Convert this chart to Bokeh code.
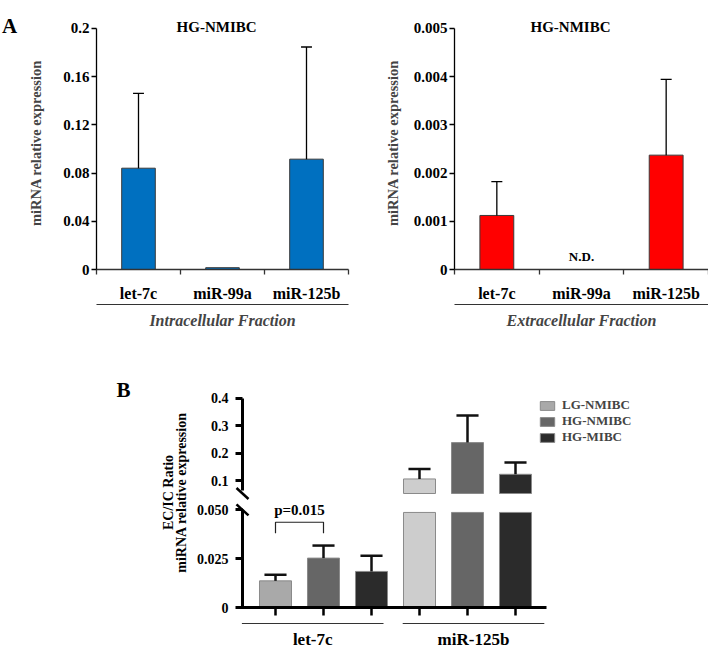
import numpy as np
from bokeh.plotting import figure
from bokeh.models import (Range1d, FixedTicker, LinearAxis, Legend, LegendItem, ColumnDataSource)
from bokeh.layouts import row, column
from bokeh.embed import file_html
from bokeh.resources import INLINE
from bokeh.core.properties import value

SERIF = "Liberation Serif"

# ---------------- data ----------------
mirnas = ["let-7c", "miR-99a", "miR-125b"]
panel_title = "HG-NMIBC"
ic_mean = [0.084, 0.0015, 0.0915]
ic_sd = [0.062, 0.0, 0.093]
ec_mean = [0.00112, float("nan"), 0.00237]
ec_sd = [0.0007, float("nan"), 0.00157]
ec_note = ["", "N.D.", ""]
ic_yticks = [0, 0.04, 0.08, 0.12, 0.16, 0.2]
ic_ylabels = ["0", "0.04", "0.08", "0.12", "0.16", "0.2"]
ec_yticks = [0, 0.001, 0.002, 0.003, 0.004, 0.005]
ec_ylabels = ["0", "0.001", "0.002", "0.003", "0.004", "0.005"]

b_groups = ["let-7c", "miR-125b"]
b_series = ["LG-NMIBC", "HG-NMIBC", "HG-MIBC"]
b_mean = {"LG-NMIBC": [0.0136, 0.106], "HG-NMIBC": [0.0252, 0.2385], "HG-MIBC": [0.0184, 0.123]}
b_sd = {"LG-NMIBC": [0.0031, 0.0366], "HG-NMIBC": [0.0064, 0.0985], "HG-MIBC": [0.0080, 0.0426]}
b_low_ticks = [0, 0.025, 0.05]
b_low_labels = ["0", "0.025", "0.050"]
b_up_ticks = [0.1, 0.2, 0.3, 0.4]
b_up_labels = ["0.1", "0.2", "0.3", "0.4"]
p_text = "p=0.015"
b_ylabel = ["EC/IC Ratio", "miRNA relative expression"]

# ---------------- styles ----------------
b_colors = {"LG-NMIBC": ["#a9a9a9", "#cdcdcd"], "HG-NMIBC": ["#666666", "#666666"],
            "HG-MIBC": ["#2b2b2b", "#2b2b2b"]}
L_TOP = 0.0485   # where the lower segment of the broken axis stops
U_BASE = 0.053   # where the upper segment of the broken axis starts


def base_fig(**kw):
    p = figure(output_backend="svg", toolbar_location=None, **kw)
    p.outline_line_color = None
    p.grid.grid_line_color = None
    p.background_fill_color = "white"
    p.border_fill_color = "white"
    return p


def style_yaxis(ax, ticks, labels, size, width, tick_out, standoff):
    ax.ticker = FixedTicker(ticks=ticks, minor_ticks=[])
    ax.major_label_overrides = dict(zip(ticks, labels))
    ax.major_label_text_font = SERIF
    ax.major_label_text_font_style = "bold"
    ax.major_label_text_font_size = size
    ax.major_label_text_color = "black"
    ax.axis_line_color = "black"
    ax.axis_line_width = width
    ax.major_tick_line_color = "black"
    ax.major_tick_line_width = width
    ax.major_tick_out = tick_out
    ax.major_tick_in = 0
    ax.minor_tick_line_color = None
    ax.major_label_standoff = standoff


def panel_a(means, sds, color, yticks, ylabels, fraction, notes, w, mbl, fw, mbt, fh, ppu, mbb,
            ylab_standoff, title_x):
    n = len(mirnas)
    ymax = yticks[-1]
    p = base_fig(width=w, height=mbt + fh + mbb, x_range=Range1d(0, n), y_range=Range1d(0, fh / ppu),
                 min_border_left=mbl, min_border_right=w - mbl - fw, min_border_top=mbt,
                 min_border_bottom=mbb)
    centers = [i + 0.5 for i in range(n)]
    m = np.array(means, dtype=float)
    s = np.array(sds, dtype=float)
    p.vbar(x=centers, top=m, bottom=0, width=0.4, fill_color=color, line_color="#3a3a3a", line_width=1)
    ok = np.isfinite(m) & np.isfinite(s) & (s > 0)
    cx = np.array(centers)[ok]
    p.segment(x0=cx, y0=m[ok], x1=cx, y1=(m + s)[ok], line_color="black", line_width=1.3)
    p.segment(x0=cx - 0.065, y0=(m + s)[ok], x1=cx + 0.065, y1=(m + s)[ok], line_color="black",
              line_width=1.3)
    nx = [c for c, t in zip(centers, notes) if t]
    nt = [t for t in notes if t]
    if nt:
        p.text(x=nx, y=[0] * len(nx), text=nt, text_align="center", text_baseline="bottom", y_offset=-6,
               text_font=value(SERIF), text_font_style="bold", text_font_size="13px", text_color="black")
    p.text(x=[title_x], y=[ymax + 1.5 / ppu], text=[panel_title], text_align="center",
           text_baseline="middle", text_font=value(SERIF), text_font_style="bold",
           text_font_size="15px", text_color="black")

    ya = p.yaxis[0]
    style_yaxis(ya, yticks, ylabels, "15px", 1.3, 5, 2)
    ya.bounds = (0, ymax)
    ya.axis_label = "miRNA relative expression"
    ya.axis_label_text_font = SERIF
    ya.axis_label_text_font_style = "bold"
    ya.axis_label_text_font_size = "14.5px"
    ya.axis_label_standoff = ylab_standoff

    xa = p.xaxis[0]
    xa.ticker = FixedTicker(ticks=centers, minor_ticks=list(range(n + 1)))
    xa.major_label_overrides = dict(zip(centers, mirnas))
    xa.major_tick_line_color = None
    xa.major_tick_out = 0
    xa.minor_tick_out = 5
    xa.minor_tick_in = 0
    xa.minor_tick_line_color = "#333333"
    xa.minor_tick_line_width = 1.3
    xa.axis_line_color = "#333333"
    xa.axis_line_width = 1.3
    xa.major_label_standoff = 10
    xa.major_label_text_font = SERIF
    xa.major_label_text_font_style = "bold"
    xa.major_label_text_font_size = "16px"
    xa.major_label_text_color = "black"

    ax2 = LinearAxis(ticker=FixedTicker(ticks=[], minor_ticks=[]), axis_label=fraction,
                     axis_label_text_font=SERIF, axis_label_text_font_style="bold italic",
                     axis_label_text_font_size="16px", axis_label_standoff=7,
                     major_tick_line_color=None, minor_tick_line_color=None,
                     major_label_standoff=0, axis_line_color="#333333", axis_line_width=1.2)
    p.add_layout(ax2, "below")
    return p


# strip holding the panel letter "A"
sa = base_fig(width=20, height=331, x_range=Range1d(0, 20), y_range=Range1d(0, 331), min_border=0,
              x_axis_location=None, y_axis_location=None)
sa.text(x=[9], y=[318], text=["A"], text_align="center", text_baseline="middle",
        text_font=value(SERIF), text_font_style="bold", text_font_size="21px", text_color="black")

a1 = panel_a(ic_mean, ic_sd, "#0070C0", ic_yticks, ic_ylabels, "Intracellular Fraction", ["", "", ""],
             w=348, mbl=76, fw=252, mbt=14, fh=257, ppu=245 / 0.2, mbb=60, ylab_standoff=16,
             title_x=1.43)
a2 = panel_a(ec_mean, ec_sd, "#FF0000", ec_yticks, ec_ylabels, "Extracellular Fraction", ec_note,
             w=340, mbl=86, fw=254, mbt=16, fh=258, ppu=246 / 0.005, mbb=57, ylab_standoff=10,
             title_x=1.37)

# ---------------- panel B ----------------
ns = len(b_series)
pos = {s: [gi * ns + si for gi in range(len(b_groups))] for si, s in enumerate(b_series)}
allpos = sorted(q for s in b_series for q in pos[s])
BW = 518
unit = 48.0                      # px per bar slot
x_start = -85.0 / unit           # frame starts 85 px left of the first bar
xr = Range1d(x_start, x_start + BW / unit)
y_axis_x = -33.0 / unit          # the y axis line, 33 px left of the first bar

UP_PPU = 274.4
LO_PPU = 1960.0
up_mbt = 55
up_fh = 116
lo_fh = 148
lo_below = 43                    # px of the lower frame below y = 0
upper = base_fig(width=BW, height=up_mbt + up_fh, x_range=xr,
                 y_range=Range1d(U_BASE - 9 / UP_PPU, U_BASE - 9 / UP_PPU + up_fh / UP_PPU),
                 x_axis_location=None, min_border_left=0, min_border_right=0, min_border_top=up_mbt,
                 min_border_bottom=0)
lower = base_fig(width=BW, height=lo_fh, x_range=xr,
                 y_range=Range1d(-lo_below / LO_PPU, (lo_fh - lo_below) / LO_PPU), min_border=0)

renderers = {}
for s in b_series:
    m = np.array(b_mean[s])
    e = np.array(b_sd[s])
    xs = np.array(pos[s], dtype=float)
    # upper segment
    up_top = np.where(m > U_BASE, m, np.nan)
    src = ColumnDataSource(dict(x=xs, top=up_top, color=b_colors[s]))
    renderers[s] = upper.vbar(x="x", top="top", bottom=U_BASE, width=0.667, fill_color="color",
                              line_color="#8a8a8a", line_width=1, source=src)
    k = m > U_BASE
    upper.segment(x0=xs[k], y0=m[k], x1=xs[k], y1=(m + e)[k], line_color="#111111", line_width=2.5)
    upper.segment(x0=xs[k] - 0.23, y0=(m + e)[k], x1=xs[k] + 0.23, y1=(m + e)[k], line_color="#111111",
                  line_width=2.5)
    # lower segment
    lower.vbar(x=xs, top=np.minimum(m, L_TOP), bottom=0, width=0.667, fill_color=b_colors[s],
               line_color="#8a8a8a", line_width=1)
    k = (m + e) <= L_TOP
    lower.segment(x0=xs[k], y0=m[k], x1=xs[k], y1=(m + e)[k], line_color="#111111", line_width=2.5)
    lower.segment(x0=xs[k] - 0.23, y0=(m + e)[k], x1=xs[k] + 0.23, y1=(m + e)[k], line_color="#111111",
                  line_width=2.5)

ua = upper.yaxis[0]
style_yaxis(ua, b_up_ticks, b_up_labels, "14px", 3, 7, 7)
ua.fixed_location = y_axis_x
ua.bounds = (U_BASE + 3 / UP_PPU, b_up_ticks[-1])

la = lower.yaxis[0]
style_yaxis(la, b_low_ticks, b_low_labels, "14px", 3, 7, 7)
la.fixed_location = y_axis_x
la.bounds = (0, b_low_ticks[-1])

# break marks on the y axis
dxs = 6 / unit
upper.segment(x0=[y_axis_x - dxs], y0=[U_BASE + 5.5 / UP_PPU], x1=[y_axis_x + dxs],
              y1=[U_BASE - 5.5 / UP_PPU], line_color="black", line_width=2.5)
lower.segment(x0=[y_axis_x - dxs], y0=[L_TOP + 8 / LO_PPU], x1=[y_axis_x + dxs],
              y1=[L_TOP - 3 / LO_PPU], line_color="black", line_width=2.5)

# x axis of the lower part (at y = 0)
xa = lower.xaxis[0]
xa.fixed_location = 0
xa.bounds = (y_axis_x - 5 / unit, x_start + 356 / unit)
xa.ticker = FixedTicker(ticks=allpos, minor_ticks=[])
xa.major_label_overrides = {q: "" for q in allpos}
xa.major_label_standoff = 0
xa.major_tick_out = 8
xa.major_tick_in = 0
xa.major_tick_line_width = 2.5
xa.major_tick_line_color = "black"
xa.minor_tick_line_color = None
xa.axis_line_width = 3
xa.axis_line_color = "black"

group_pad = [(0.7, 0.25), (0.35, 0.6)]
gx0, gx1 = [], []
for gi, g in enumerate(b_groups):
    gp = [gi * ns + si for si in range(ns)]
    gx0.append(gp[0] - group_pad[gi][0])
    gx1.append(gp[-1] + group_pad[gi][1])
gy = -16 / LO_PPU
lower.segment(x0=gx0, y0=[gy] * len(gx0), x1=gx1, y1=[gy] * len(gx0), line_color="#333333", line_width=1.2)
lower.text(x=[(a + b) / 2 for a, b in zip(gx0, gx1)], y=[-32 / LO_PPU] * len(b_groups), text=b_groups,
           text_align="center", text_baseline="middle", text_font=value(SERIF), text_font_style="bold",
           text_font_size="17px", text_color="black")

# significance bracket
bx = [pos[b_series[0]][0], pos[b_series[1]][0]]
lower.line(x=[bx[0], bx[0], bx[1], bx[1]], y=[0.0379, 0.0435, 0.0435, 0.0379], line_color="#222222",
           line_width=1.2)
lower.text(x=[(bx[0] + bx[1]) / 2], y=[0.0497], text=[p_text], text_align="center", text_baseline="middle",
           text_font=value(SERIF), text_font_style="bold", text_font_size="15px", text_color="black")

legend = Legend(items=[LegendItem(label=s, renderers=[renderers[s]], index=0) for s in b_series],
                location=(348, 57), glyph_width=18, glyph_height=11, label_height=16, spacing=0,
                padding=0, margin=0, label_standoff=6, border_line_color=None, background_fill_alpha=0,
                label_text_font=SERIF, label_text_font_style="bold", label_text_font_size="13px")
upper.add_layout(legend, "center")

# left strip with panel letter "B" and the shared y label
dh = up_mbt + up_fh + lo_fh
d = base_fig(width=190, height=dh, x_range=Range1d(0, 190), y_range=Range1d(0, dh), min_border=0,
             x_axis_location=None, y_axis_location=None)
d.text(x=[123], y=[dh - 58], text=["B"], text_align="center", text_baseline="middle",
       text_font=value(SERIF), text_font_style="bold", text_font_size="21px", text_color="black")
d.text(x=[168, 181], y=[dh - 161, dh - 161], text=b_ylabel, angle=np.pi / 2,
       text_align="center", text_baseline="middle", text_font=value(SERIF), text_font_style="bold",
       text_font_size="14px", text_color="black")

layout = column(row(sa, a1, a2), row(d, column(upper, lower)))
open("out.html", "w").write(file_html(layout, INLINE))
